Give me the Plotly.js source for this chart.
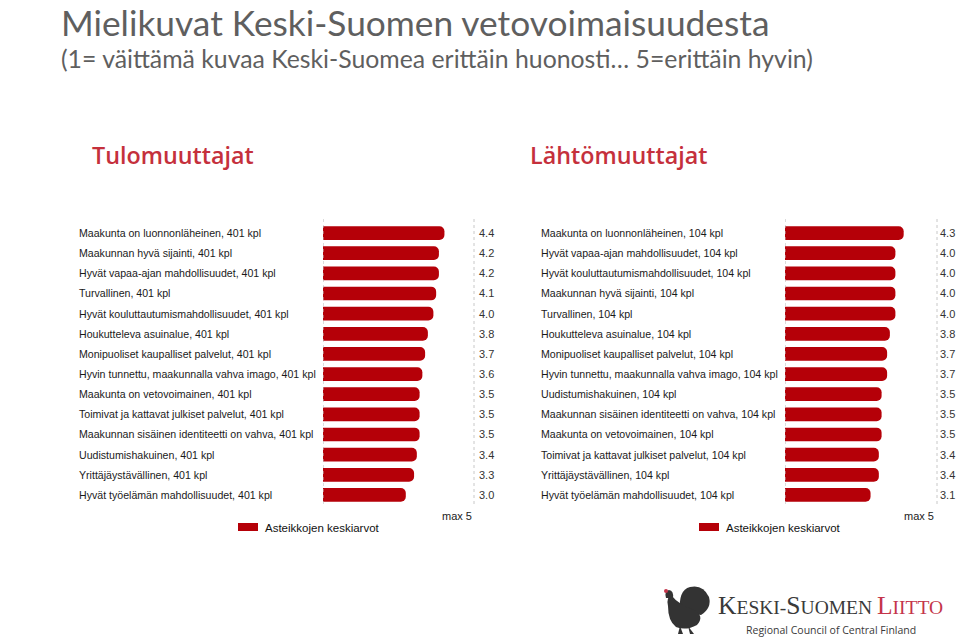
<!DOCTYPE html>
<html>
<head>
<meta charset="utf-8">
<script src="https://cdn.plot.ly/plotly-3.0.1.min.js"></script>
<style>html,body{margin:0;padding:0;background:#fff;}#chart{width:959px;height:639px;}</style>
</head>
<body>
<div id="chart"></div>
<script>
// ---- data ----
const mainTitle = "Mielikuvat Keski-Suomen vetovoimaisuudesta";
const subTitle = "(1= väittämä kuvaa Keski-Suomea erittäin huonosti… 5=erittäin hyvin)";
const leftTitle = "Tulomuuttajat";
const rightTitle = "Lähtömuuttajat";
const leftLabels = [
  "Maakunta on luonnonläheinen, 401 kpl",
  "Maakunnan hyvä sijainti, 401 kpl",
  "Hyvät vapaa-ajan mahdollisuudet, 401 kpl",
  "Turvallinen, 401 kpl",
  "Hyvät kouluttautumismahdollisuudet, 401 kpl",
  "Houkutteleva asuinalue, 401 kpl",
  "Monipuoliset kaupalliset palvelut, 401 kpl",
  "Hyvin tunnettu, maakunnalla vahva imago, 401 kpl",
  "Maakunta on vetovoimainen, 401 kpl",
  "Toimivat ja kattavat julkiset palvelut, 401 kpl",
  "Maakunnan sisäinen identiteetti on vahva, 401 kpl",
  "Uudistumishakuinen, 401 kpl",
  "Yrittäjäystävällinen, 401 kpl",
  "Hyvät työelämän mahdollisuudet, 401 kpl"
];
const leftValues = [4.4, 4.2, 4.2, 4.1, 4.0, 3.8, 3.7, 3.6, 3.5, 3.5, 3.5, 3.4, 3.3, 3.0];
const rightLabels = [
  "Maakunta on luonnonläheinen, 104 kpl",
  "Hyvät vapaa-ajan mahdollisuudet, 104 kpl",
  "Hyvät kouluttautumismahdollisuudet, 104 kpl",
  "Maakunnan hyvä sijainti, 104 kpl",
  "Turvallinen, 104 kpl",
  "Houkutteleva asuinalue, 104 kpl",
  "Monipuoliset kaupalliset palvelut, 104 kpl",
  "Hyvin tunnettu, maakunnalla vahva imago, 104 kpl",
  "Uudistumishakuinen, 104 kpl",
  "Maakunnan sisäinen identiteetti on vahva, 104 kpl",
  "Maakunta on vetovoimainen, 104 kpl",
  "Toimivat ja kattavat julkiset palvelut, 104 kpl",
  "Yrittäjäystävällinen, 104 kpl",
  "Hyvät työelämän mahdollisuudet, 104 kpl"
];
const rightValues = [4.3, 4.0, 4.0, 4.0, 4.0, 3.8, 3.7, 3.7, 3.5, 3.5, 3.5, 3.4, 3.4, 3.1];
const legendText = "Asteikkojen keskiarvot";
const maxText = "max 5";
const scaleMax = 5;

// ---- helpers ----
const W = 959, H = 639;
const px = x => x / W;
const py = y => 1 - y / H;
const BAR = "#B50008";
const RED = "#C5303C";
const labelFont = {family: "Liberation Sans, Arial, sans-serif", size: 10.6, color: "#1a1a1a"};
const valFont = {family: "Liberation Sans, Arial, sans-serif", size: 11, color: "#333"};

const traces = [
  {type: "bar", orientation: "h", y: leftLabels, x: leftValues, xaxis: "x", yaxis: "y",
   marker: {color: BAR, cornerradius: 5}, width: 0.68, hoverinfo: "x+y", showlegend: false},
  {type: "bar", orientation: "h", y: rightLabels, x: rightValues, xaxis: "x2", yaxis: "y2",
   marker: {color: BAR, cornerradius: 5}, width: 0.68, hoverinfo: "x+y", showlegend: false}
];

const yTop = 223, yBot = 505;
const axCommon = {range: [0, scaleMax], showgrid: false, zeroline: false, showticklabels: false, ticks: "", showline: false, fixedrange: true};
const yCommon = {type: "category", autorange: "reversed", showgrid: false, zeroline: false, showticklabels: false, ticks: "", showline: false, fixedrange: true};

const annotations = [];
const shapes = [];
function addText(x, y, text, font, xanchor, opts) {
  annotations.push(Object.assign({xref: "paper", yref: "paper", x: px(x), y: py(y), text: text,
    showarrow: false, xanchor: xanchor || "left", yanchor: "middle", font: font}, opts || {}));
}

// titles
addText(60, 0, mainTitle, {family: "Lato, sans-serif", size: 35.3, color: "#5f5f5f"}, "left", {yanchor: "top", borderpad: 0});
addText(60, 42.6, subTitle, {family: "Lato, sans-serif", size: 24.8, color: "#5f5f5f"}, "left", {yanchor: "top", borderpad: 0});
addText(90, 155, leftTitle, {family: "Open Sans, sans-serif", size: 23.3, color: RED, weight: 600});
addText(528, 155, rightTitle, {family: "Open Sans, sans-serif", size: 23.3, color: RED, weight: 600});

// category labels and values
leftLabels.forEach((l, i) => {
  annotations.push({xref: "paper", yref: "y", x: px(77), y: l, text: l, showarrow: false, xanchor: "left", yanchor: "middle", font: labelFont});
  annotations.push({xref: "paper", yref: "y", x: px(477), y: l, text: leftValues[i].toFixed(1), showarrow: false, xanchor: "left", yanchor: "middle", font: valFont});
});
rightLabels.forEach((l, i) => {
  annotations.push({xref: "paper", yref: "y2", x: px(539), y: l, text: l, showarrow: false, xanchor: "left", yanchor: "middle", font: labelFont});
  annotations.push({xref: "paper", yref: "y2", x: px(938), y: l, text: rightValues[i].toFixed(1), showarrow: false, xanchor: "left", yanchor: "middle", font: valFont});
});

// dotted axis lines
["x", "x2"].forEach(ax => {
  shapes.push({type: "line", xref: ax, yref: "paper", x0: 0, x1: 0, y0: py(219), y1: py(506), line: {color: "#b8b8b8", width: 1, dash: "dot"}});
});
[474, 937].forEach(x => {
  shapes.push({type: "line", xref: "paper", yref: "paper", x0: px(x), x1: px(x), y0: py(219), y1: py(506), line: {color: "#c8c8c8", width: 1, dash: "dot"}});
});

// legends
[[238, 263, 440], [699, 724, 902]].forEach(([sx, tx, mx]) => {
  shapes.push({type: "rect", xref: "paper", yref: "paper", x0: px(sx), x1: px(sx + 20), y0: py(531), y1: py(523), fillcolor: BAR, line: {width: 0}});
  addText(tx, 528, legendText, {family: "Liberation Sans, Arial, sans-serif", size: 11.5, color: "#111"});
  addText(mx, 516, maxText, {family: "Liberation Sans, Arial, sans-serif", size: 11, color: "#222"});
});

// logo
addText(716, 605, '<span style="font-size:25.6px">K</span>ESKI-<span style="font-size:25.6px">S</span>UOMEN <span style="color:#C4354A"><span style="font-size:25.6px">L</span>IITTO</span>',
  {family: "Liberation Serif, serif", size: 19.5, color: "#3a3a3a"});
addText(744, 630, "Regional Council of Central Finland", {family: "Open Sans, sans-serif", size: 10.5, color: "#3a3a3a"});
// stylized capercaillie
const bird = [
  {path: "M 680 612 Q 678 590 690 587 Q 703 584 709 597 Q 712 608 701 615 Z"},
  {path: "M 668 606 Q 666 596 672 596 Q 678 604 694 610 Q 705 616 697 625 Q 686 631 676 627 Q 668 621 668 606 Z"},
  {path: "M 666 598 Q 664 591 669 590 Q 674 591 673 598 Z"},
  {path: "M 680 626 L 678 634 L 683 634 Z"},
  {path: "M 688 626 L 690 634 L 694 634 Z"}
];
function toPaperPath(p) {
  return p.replace(/(-?\d+(?:\.\d+)?) (-?\d+(?:\.\d+)?)/g, (m, a, b) => (px(+a)).toFixed(5) + "," + (py(+b)).toFixed(5));
}
bird.forEach(b => shapes.push({type: "path", xref: "paper", yref: "paper", path: toPaperPath(b.path), fillcolor: "#333", line: {width: 0}}));
shapes.push({type: "circle", xref: "paper", yref: "paper", x0: px(664), x1: px(668), y0: py(593), y1: py(589), fillcolor: "#C4354A", line: {width: 0}});

const layout = {
  width: W, height: H, autosize: false,
  margin: {l: 0, r: 0, t: 0, b: 0},
  paper_bgcolor: "#fff", plot_bgcolor: "rgba(0,0,0,0)",
  showlegend: false,
  bargap: 0.32,
  xaxis: Object.assign({domain: [px(323), px(323 + 138)], anchor: "y"}, axCommon),
  yaxis: Object.assign({domain: [py(yBot), py(yTop)], anchor: "x", categoryarray: leftLabels, categoryorder: "array"}, yCommon),
  xaxis2: Object.assign({domain: [px(785), px(785 + 138)], anchor: "y2"}, axCommon),
  yaxis2: Object.assign({domain: [py(yBot), py(yTop)], anchor: "x2", categoryarray: rightLabels, categoryorder: "array"}, yCommon),
  annotations: annotations,
  shapes: shapes
};

Plotly.newPlot("chart", traces, layout, {displayModeBar: false, staticPlot: true});
</script>
</body>
</html>
